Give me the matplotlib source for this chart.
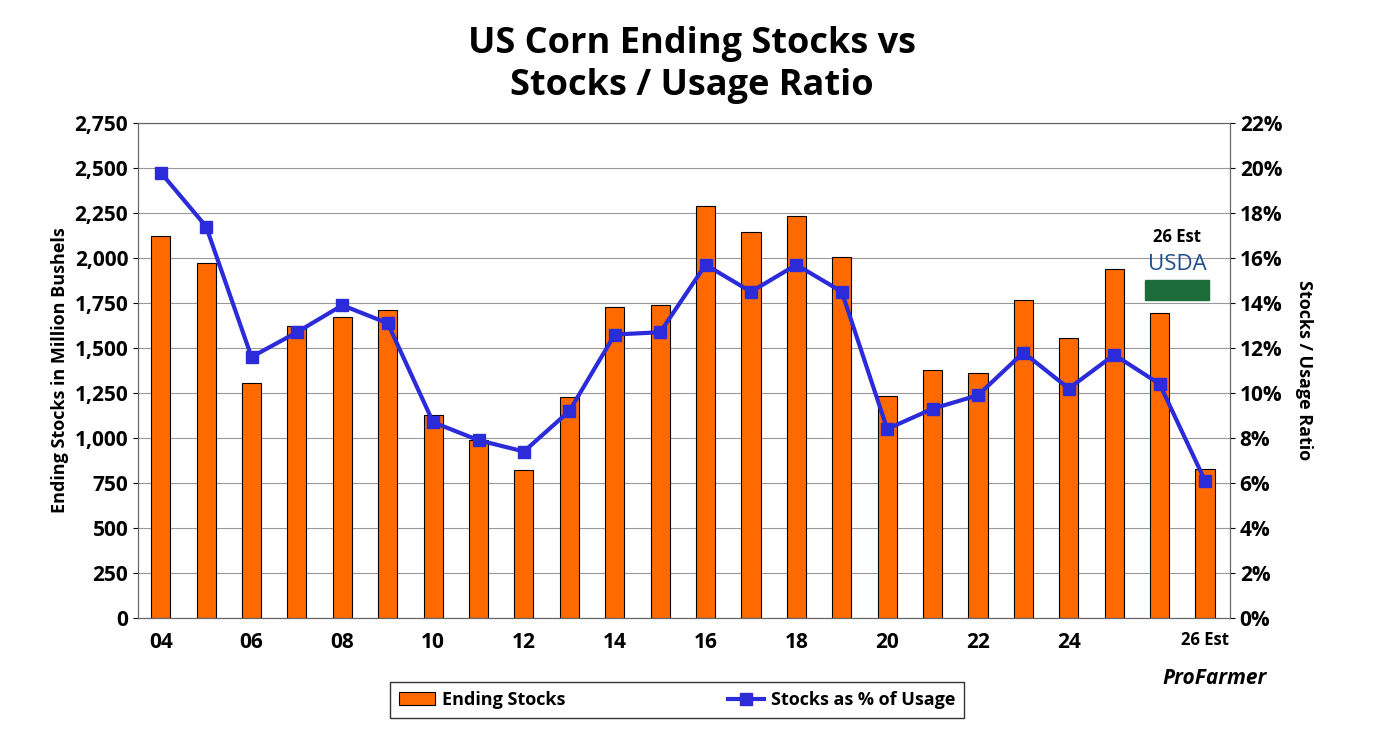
import matplotlib
matplotlib.use("Agg")
import matplotlib.pyplot as plt
import numpy as np

years = ["04","05","06","07","08","09","10","11","12","13","14","15","16","17","18","19","20","21","22","23","24","25","26","27"]
stocks = [2120,1970,1305,1625,1675,1710,1130,990,820,1230,1730,1740,2290,2145,2235,2005,1235,1380,1360,1765,1555,1940,1695,830]
ratio = [19.8,17.4,11.6,12.7,13.9,13.1,8.7,7.9,7.4,9.2,12.6,12.7,15.7,14.5,15.7,14.5,8.4,9.3,9.9,11.8,10.2,11.7,10.4,6.1]
tick_labels = ["04","06","08","10","12","14","16","18","20","22","24"]

plt.rcParams['font.family'] = ['Open Sans', 'DejaVu Sans']
fig = plt.figure(figsize=(13.83, 7.29), dpi=100)
ax = fig.add_axes([138/1383, 1-618/729, (1230-138)/1383, (618-123)/729])
x = np.arange(len(years))
ax.bar(x, stocks, width=0.42, color='#FF6A00', edgecolor='black', linewidth=0.8, label='Ending Stocks', zorder=2)
ax.set_ylim(0, 2750)
ax.set_yticks(range(0, 2751, 250))
ax.set_yticklabels([f"{v:,}" for v in range(0, 2751, 250)], fontsize=15, fontweight='bold')
ax.set_xlim(-0.5, len(years)-0.45)
ax.set_xticks(x[:21:2])
ax.set_xticklabels(tick_labels, fontsize=15, fontweight='bold')
ax.tick_params(axis='x', length=0, pad=10)
ax.grid(axis='y', color='#999999', linewidth=0.8, zorder=0)
ax.set_axisbelow(True)
ax.set_ylabel("Ending Stocks in Million Bushels", fontsize=13, fontweight='bold')
ax2 = ax.twinx()
ax2.plot(x, ratio, color='#2B2BD9', linewidth=3, marker='s', markersize=8, label='Stocks as % of Usage')
ax2.set_ylim(0, 22)
ax2.set_yticks(range(0, 23, 2))
ax2.set_yticklabels([f"{v}%" for v in range(0, 23, 2)], fontsize=15, fontweight='bold')
ax2.set_ylabel("Stocks / Usage Ratio", fontsize=13, fontweight='bold', rotation=270, labelpad=22)
for a in (ax, ax2):
    for s in a.spines.values():
        s.set_color('#666666')
fig.text(0.5, 0.965, "US Corn Ending Stocks vs\nStocks / Usage Ratio", ha='center', va='top',
         fontsize=26, fontweight='bold', linespacing=1.25)
ax.text(x[-1], -120, "26 Est", ha='center', va='center', fontsize=12, fontweight='bold')
fig.text(1215/1383, 1-678/729, "ProFarmer", ha='center', va='center', fontsize=15,
         fontweight='bold', style='italic')
fig.text(1177/1383, 1-237/729, "26 Est", ha='center', va='center', fontsize=12, fontweight='bold')
fig.text(1177/1383, 1-265/729, "USDA", ha='center', va='center', fontsize=16, color='#1F4E8C')
fig.patches.append(plt.Rectangle((1145/1383, 1-300/729), 64/1383, 20/729, transform=fig.transFigure,
                                 color='#1E6B3A'))
h1, l1 = ax.get_legend_handles_labels()
h2, l2 = ax2.get_legend_handles_labels()
leg = fig.legend(h1+h2, l1+l2, loc='center', bbox_to_anchor=(677/1383, 1-700/729), ncol=2,
                 frameon=True, fancybox=False, edgecolor='black',
                 prop={'weight':'bold', 'size':13}, columnspacing=9, borderpad=0.5,
                 handletextpad=0.4)
leg.get_frame().set_boxstyle('square', pad=0.0)
fig.savefig("out.png", dpi=100)
